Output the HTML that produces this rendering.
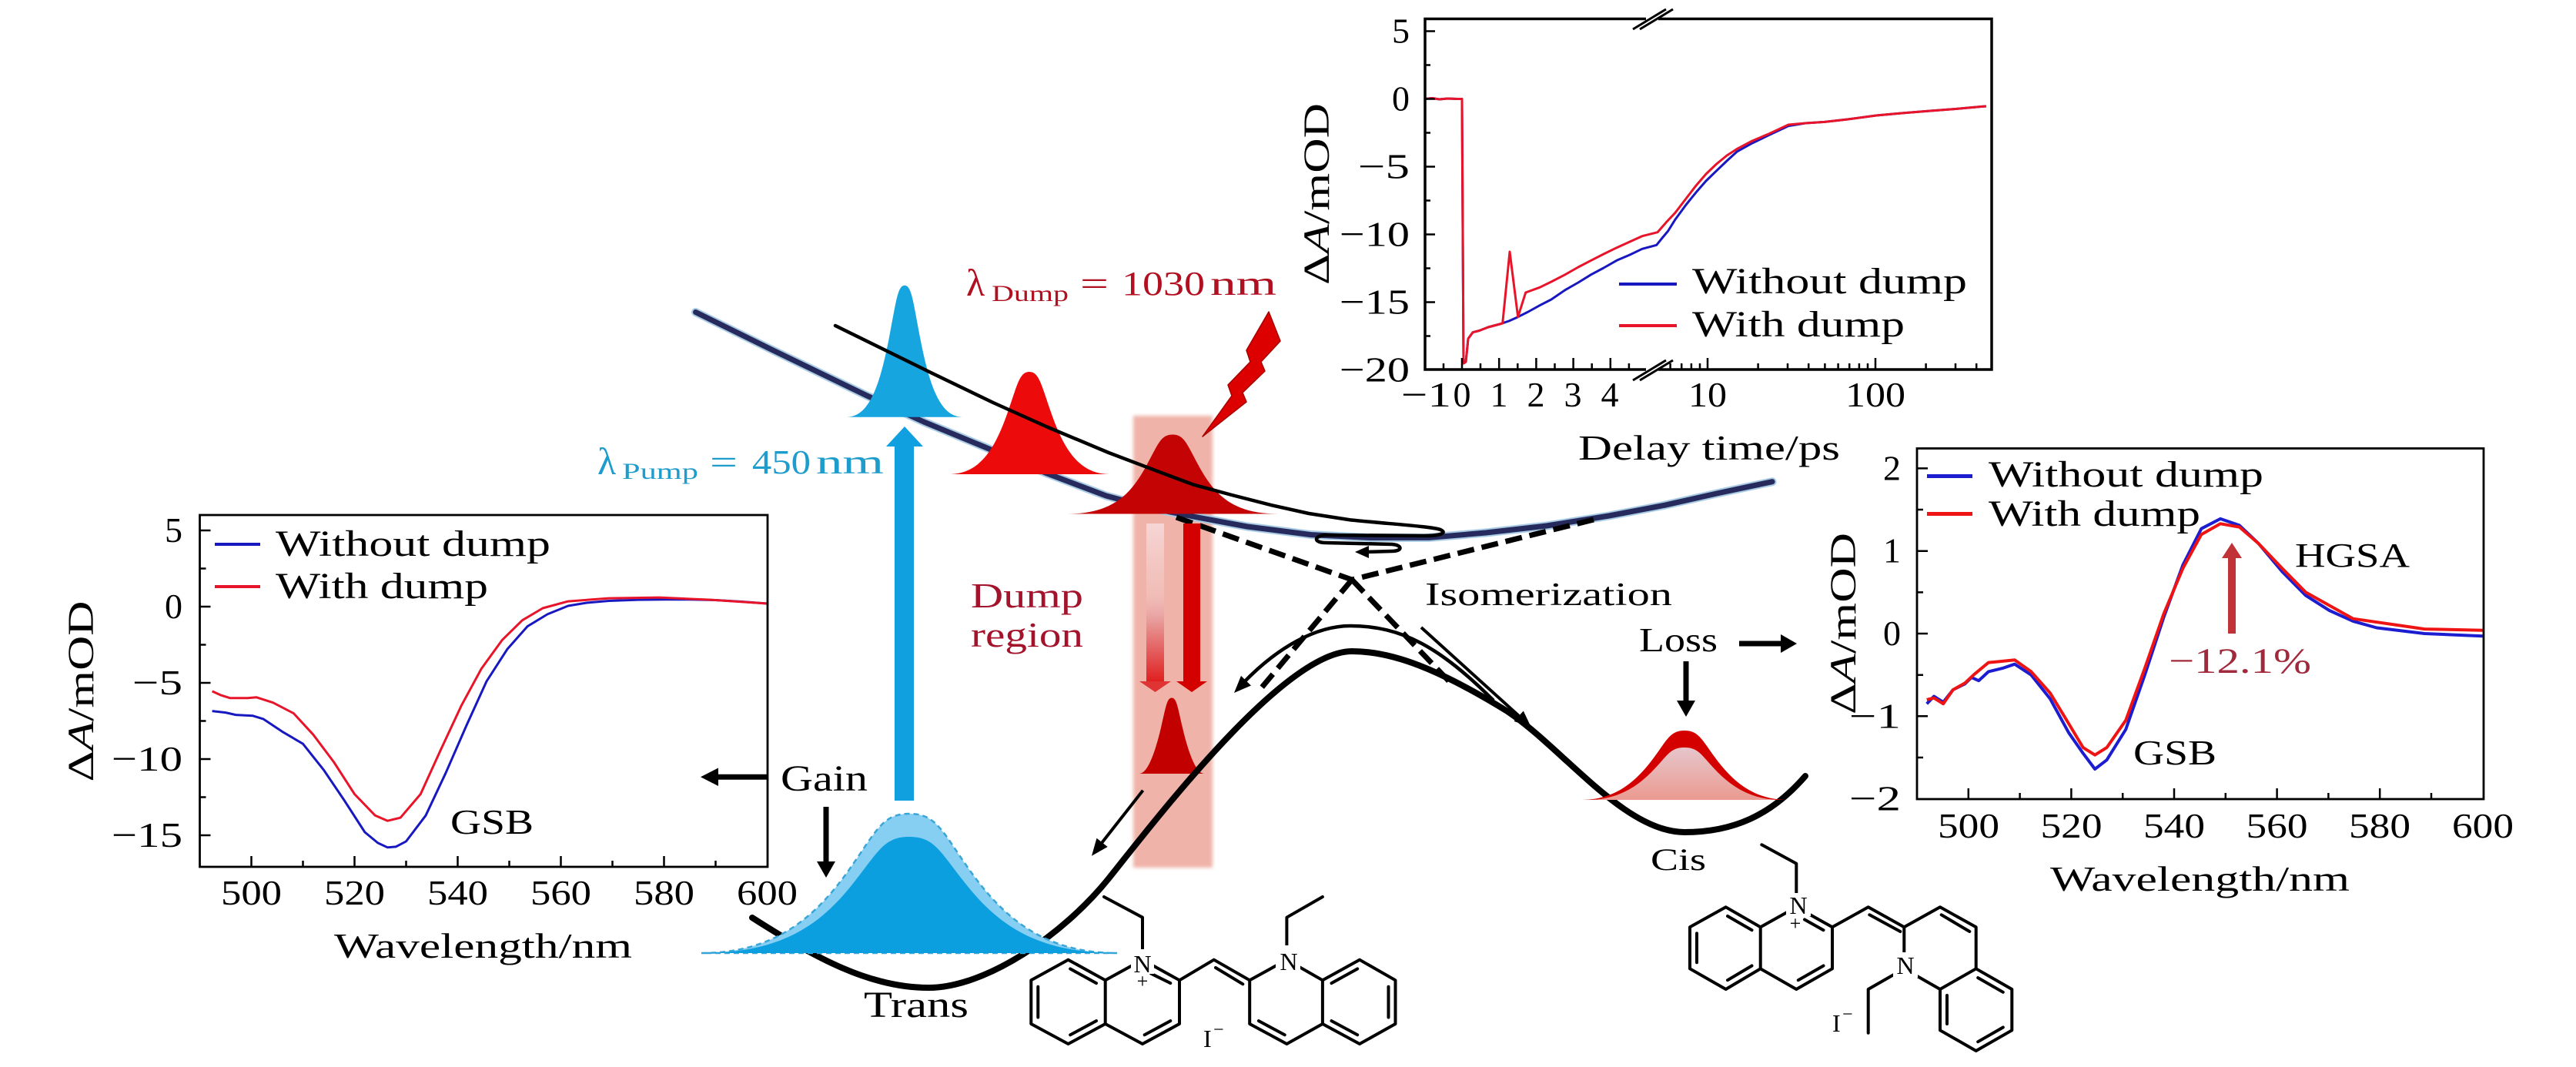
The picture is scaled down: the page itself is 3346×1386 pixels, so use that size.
<!DOCTYPE html>
<html>
<head>
<meta charset="utf-8">
<style>
html,body{margin:0;padding:0;background:#fff;}
svg{display:block;}
text{font-family:"Liberation Serif","DejaVu Serif",serif;}
</style>
</head>
<body>
<svg xmlns="http://www.w3.org/2000/svg" width="3346" height="1386" viewBox="0 0 3346 1386">
<defs>
  <linearGradient id="fadeArrow" x1="0" y1="0" x2="0" y2="1">
    <stop offset="0" stop-color="#f6dada" stop-opacity="0.9"/>
    <stop offset="0.45" stop-color="#f3c4c0" stop-opacity="0.6"/>
    <stop offset="0.6" stop-color="#e8a0a0"/>
    <stop offset="1" stop-color="#e02020"/>
  </linearGradient>
  <linearGradient id="cisFill" x1="0" y1="0" x2="0" y2="1">
    <stop offset="0" stop-color="#e6c6cc"/>
    <stop offset="1" stop-color="#eb9a90"/>
  </linearGradient>
  <filter id="soft" x="-10%" y="-5%" width="120%" height="110%">
    <feGaussianBlur stdDeviation="2.5"/>
  </filter>
</defs>
<rect x="0" y="0" width="3346" height="1386" fill="#fff"/>

<!-- ================= TOP PLOT ================= -->
<g>
  <path fill="none" stroke="#1818c0" stroke-width="3" stroke-linejoin="round" d="M1851,128.5 L1860,127.5 L1870,129 L1880,128 L1893,128.5 L1899,128.5 L1901,472 L1904,470 L1907,440 L1913,431.7 L1921.5,429.5 L1933,425 L1948,421 L1960,417 L1971.7,411.7 L1985,405 L2000,396.7 L2015,389 L2033,376.7 L2050,367 L2066.7,356.7 L2083,348 L2100,338.3 L2117,331 L2133,323.3 L2151.7,318.3 L2160,308 L2166.7,300 L2176,285.1 L2190,266 L2203,249.9 L2216,235 L2229.6,221.8 L2243,209 L2256,197.1 L2276,186 L2296.6,176 L2323,163.7 L2345,160 L2370,158.4 L2400,155 L2437,150 L2470,147 L2504,144.3 L2540,141.5 L2574.5,138.4 L2580,138"/>
  <path fill="none" stroke="#e8142a" stroke-width="3" stroke-linejoin="round" d="M1851,128.5 L1860,127.5 L1870,129 L1880,128 L1893,128.5 L1899,128.5 L1901,472 L1904,470 L1907,440 L1913,431.7 L1921.5,429.5 L1933,425 L1948,421 L1951.7,420 L1961,327 L1971.7,411.7 L1981.7,380 L2000,373.3 L2015,366 L2033,356.7 L2050,347 L2066.7,338.3 L2083,330 L2100,321.7 L2117,314 L2133,306.7 L2153,301.7 L2165,288 L2176,276.3 L2190,258 L2203,241.1 L2216,226 L2229.6,213 L2243,202 L2256,193.6 L2276,183 L2296.6,174.3 L2323,162 L2345,160 L2370,158.4 L2400,155 L2437,150 L2470,147 L2504,144.3 L2540,141.5 L2574.5,138.4 L2580,138"/>
  <rect x="1851" y="24.5" width="736" height="455.5" fill="none" stroke="#000" stroke-width="3.5"/>
  <path stroke="#000" stroke-width="2.5" fill="none" d="M1851,40.5 h13 M1851,128.5 h13 M1851,216.5 h13 M1851,304.5 h13 M1851,392.5 h13 M1851,84.5 h7 M1851,172.5 h7 M1851,260.5 h7 M1851,348.5 h7 M1851,436.5 h7"/>
  <path stroke="#000" stroke-width="2.5" fill="none" d="M1899,480 v-15 M1947.2,480 v-15 M1995.4,480 v-15 M2043.6,480 v-15 M2091.8,480 v-15 M2218,480 v-15 M2436,480 v-15
  M1875,480 v-8 M1923,480 v-8 M1971.3,480 v-8 M2019.5,480 v-8 M2067.7,480 v-8 M2115.9,480 v-8 M2169.6,480 v-8 M2184.2,480 v-8 M2196.9,480 v-8 M2208,480 v-8 M2283.6,480 v-8 M2322,480 v-8 M2349.2,480 v-8 M2370.4,480 v-8 M2387.6,480 v-8 M2402.2,480 v-8 M2414.9,480 v-8 M2426,480 v-8 M2501.6,480 v-8 M2540,480 v-8 M2567.2,480 v-8"/>
  <rect x="2138" y="19" width="16" height="11" fill="#fff"/>
  <rect x="2138" y="474.5" width="16" height="11" fill="#fff"/>
  <path stroke="#000" stroke-width="3" d="M2121,38 L2164,12 M2130,38 L2173,12 M2121,494 L2164,468 M2130,494 L2173,468"/>
  <g font-size="46">
    <text x="1831" y="55.5" text-anchor="end">5</text>
    <text x="1831" y="143.5" text-anchor="end">0</text>
    <text x="1764" y="231.5" textLength="67" lengthAdjust="spacingAndGlyphs">−5</text>
    <text x="1740" y="319.5" textLength="91" lengthAdjust="spacingAndGlyphs">−10</text>
    <text x="1740" y="407.5" textLength="91" lengthAdjust="spacingAndGlyphs">−15</text>
    <text x="1740" y="495.5" textLength="91" lengthAdjust="spacingAndGlyphs">−20</text>
    <text x="1820" y="528" textLength="65" lengthAdjust="spacingAndGlyphs">−1</text>
    <text x="1899" y="528" text-anchor="middle">0</text>
    <text x="1947" y="528" text-anchor="middle">1</text>
    <text x="1995" y="528" text-anchor="middle">2</text>
    <text x="2043" y="528" text-anchor="middle">3</text>
    <text x="2091" y="528" text-anchor="middle">4</text>
    <text x="2193" y="528" textLength="50" lengthAdjust="spacingAndGlyphs">10</text>
    <text x="2397" y="528" textLength="78" lengthAdjust="spacingAndGlyphs">100</text>
  </g>
  <text x="2050" y="597" font-size="46" textLength="340" lengthAdjust="spacingAndGlyphs">Delay time/ps</text>
  <text transform="translate(1726,370) rotate(-90)" font-size="48" textLength="236" lengthAdjust="spacingAndGlyphs">Δ<tspan font-style="italic">A</tspan>/mOD</text>
  <line x1="2103" y1="369" x2="2178" y2="369" stroke="#1818c0" stroke-width="4"/>
  <line x1="2103" y1="423" x2="2178" y2="423" stroke="#e8142a" stroke-width="4"/>
  <text x="2198" y="381" font-size="48" textLength="357" lengthAdjust="spacingAndGlyphs">Without dump</text>
  <text x="2198" y="437" font-size="48" textLength="276" lengthAdjust="spacingAndGlyphs">With dump</text>
</g>

<!-- ================= LEFT PLOT ================= -->
<g>
  <path fill="none" stroke="#1818c0" stroke-width="3" stroke-linejoin="round" d="M275.6,923.6 L293,925.6 L306.4,928.6 L328.5,929.8 L341.9,933.9 L366.7,950.4 L393.5,966.2 L420.3,999.9 L447.1,1039.5 L473.9,1081 L490.7,1094.9 L503.4,1100.8 L514.1,1099.9 L527.5,1092.9 L553,1059.3 L579.1,1003.8 L605.9,942.4 L632,885 L658.8,843.4 L685,813.7 L711.1,797.9 L737.9,787 L762,783 L790.8,780.5 L829,779.1 L862.5,778.7 L896,778.7 L929.5,779.5 L963,781.5 L996.5,784"/>
  <path fill="none" stroke="#e8142a" stroke-width="3" stroke-linejoin="round" d="M275.6,897.9 L286.3,902.8 L299,906.8 L321.8,906.8 L333.2,905.8 L354.6,912.7 L381.4,926.6 L406.9,954.3 L433.7,990 L460.5,1031.5 L487.3,1059.3 L503.4,1066.2 L520.1,1062.2 L546.3,1031.5 L572.4,974.1 L599.2,916.7 L625.3,868.6 L652.1,831.6 L678.3,805.8 L705,790 L737.9,781.1 L790.8,777.1 L856.3,776.1 L923.3,779.1 L996.5,784"/>
  <rect x="259.5" y="669" width="737.5" height="457" fill="none" stroke="#000" stroke-width="2.8"/>
  <path stroke="#000" stroke-width="2.5" fill="none" d="M259.5,689 h14 M259.5,788 h14 M259.5,887 h14 M259.5,986 h14 M259.5,1085 h14 M259.5,738.5 h8 M259.5,837.5 h8 M259.5,936.5 h8 M259.5,1035.5 h8
  M326.5,1126 v-14 M460.5,1126 v-14 M594.5,1126 v-14 M728.5,1126 v-14 M862.5,1126 v-14 M393.5,1126 v-8 M527.5,1126 v-8 M661.5,1126 v-8 M795.5,1126 v-8 M929.5,1126 v-8"/>
  <g font-size="46">
    <text x="237" y="704" text-anchor="end">5</text>
    <text x="237" y="803" text-anchor="end">0</text>
    <text x="172" y="902" textLength="65" lengthAdjust="spacingAndGlyphs">−5</text>
    <text x="145" y="1001" textLength="92" lengthAdjust="spacingAndGlyphs">−10</text>
    <text x="145" y="1100" textLength="92" lengthAdjust="spacingAndGlyphs">−15</text>
    <text x="287" y="1175" textLength="79" lengthAdjust="spacingAndGlyphs">500</text>
    <text x="421" y="1175" textLength="79" lengthAdjust="spacingAndGlyphs">520</text>
    <text x="555" y="1175" textLength="79" lengthAdjust="spacingAndGlyphs">540</text>
    <text x="689" y="1175" textLength="79" lengthAdjust="spacingAndGlyphs">560</text>
    <text x="823" y="1175" textLength="79" lengthAdjust="spacingAndGlyphs">580</text>
    <text x="957" y="1175" textLength="79" lengthAdjust="spacingAndGlyphs">600</text>
  </g>
  <text x="434" y="1244" font-size="46" textLength="387" lengthAdjust="spacingAndGlyphs">Wavelength/nm</text>
  <text transform="translate(121,1015.5) rotate(-90)" font-size="48" textLength="235" lengthAdjust="spacingAndGlyphs">Δ<tspan font-style="italic">A</tspan>/mOD</text>
  <line x1="279" y1="707" x2="338" y2="707" stroke="#1818c0" stroke-width="4"/>
  <line x1="279" y1="762" x2="338" y2="762" stroke="#e8142a" stroke-width="4"/>
  <text x="358" y="722" font-size="48" textLength="357" lengthAdjust="spacingAndGlyphs">Without dump</text>
  <text x="358" y="777" font-size="48" textLength="276" lengthAdjust="spacingAndGlyphs">With dump</text>
  <text x="585" y="1083" font-size="46" textLength="108" lengthAdjust="spacingAndGlyphs">GSB</text>
</g>

<!-- ================= RIGHT PLOT ================= -->
<g>
  <path fill="none" stroke="#1c1cd0" stroke-width="4" stroke-linejoin="round" d="M2502.7,914.2 L2512,904.5 L2524.1,912.1 L2536.8,896 L2552.1,888.5 L2560.8,879.9 L2570.2,884.2 L2582.9,872.4 L2600.9,868.1 L2616.9,862.7 L2638.3,876.7 L2663,907.8 L2687.1,951.8 L2705.8,978.6 L2721.1,999 L2736.5,987.2 L2761.2,947.5 L2785.9,876.7 L2810.6,801.5 L2835.4,733.9 L2859.4,686.7 L2884.1,673.9 L2908.8,682.4 L2933.6,706 L2964.3,742.5 L2995,773.6 L3025.7,793 L3056.5,806.9 L3087.2,815.5 L3149.3,823 L3224.8,826.2"/>
  <path fill="none" stroke="#ee1414" stroke-width="4" stroke-linejoin="round" d="M2502.7,908.8 L2512,906.7 L2524.1,914.2 L2536.8,896 L2552.1,887.4 L2563.5,876.7 L2582.9,860.6 L2594.9,859.5 L2616.9,857.3 L2638.3,872.4 L2663,900.3 L2687.1,940 L2705.8,971.1 L2721.1,980.7 L2736.5,971.1 L2761.2,935.7 L2785.9,868.1 L2810.6,797.2 L2835.4,738.2 L2859.4,694.2 L2884.1,680.3 L2908.8,684.6 L2933.6,706 L2964.3,738.2 L2995,769.4 L3056.5,803.7 L3149.3,817.1 L3224.8,818.7"/>
  <rect x="2490" y="582.5" width="736" height="455.5" fill="none" stroke="#000" stroke-width="2.8"/>
  <path stroke="#000" stroke-width="2.5" fill="none" d="M2490,608.4 h14 M2490,715.7 h14 M2490,823 h14 M2490,930.3 h14 M2490,662 h8 M2490,769.4 h8 M2490,876.7 h8 M2490,984 h8
  M2556.8,1038 v-14 M2690.4,1038 v-14 M2824,1038 v-14 M2957.6,1038 v-14 M3091.2,1038 v-14 M2623.6,1038 v-8 M2757.2,1038 v-8 M2890.8,1038 v-8 M3024.4,1038 v-8 M3158,1038 v-8"/>
  <g font-size="46">
    <text x="2469" y="623.4" text-anchor="end">2</text>
    <text x="2469" y="730.7" text-anchor="end">1</text>
    <text x="2469" y="838" text-anchor="end">0</text>
    <text x="2402" y="945.3" textLength="67" lengthAdjust="spacingAndGlyphs">−1</text>
    <text x="2402" y="1052.6" textLength="67" lengthAdjust="spacingAndGlyphs">−2</text>
    <text x="2517" y="1088" textLength="80" lengthAdjust="spacingAndGlyphs">500</text>
    <text x="2650.5" y="1088" textLength="80" lengthAdjust="spacingAndGlyphs">520</text>
    <text x="2784" y="1088" textLength="80" lengthAdjust="spacingAndGlyphs">540</text>
    <text x="2917.5" y="1088" textLength="80" lengthAdjust="spacingAndGlyphs">560</text>
    <text x="3051" y="1088" textLength="80" lengthAdjust="spacingAndGlyphs">580</text>
    <text x="3185" y="1088" textLength="80" lengthAdjust="spacingAndGlyphs">600</text>
  </g>
  <text x="2663" y="1157" font-size="46" textLength="389" lengthAdjust="spacingAndGlyphs">Wavelength/nm</text>
  <text transform="translate(2410,928) rotate(-90)" font-size="48" textLength="236" lengthAdjust="spacingAndGlyphs">Δ<tspan font-style="italic">A</tspan>/mOD</text>
  <line x1="2503" y1="618.5" x2="2562" y2="618.5" stroke="#1c1cd0" stroke-width="5"/>
  <line x1="2503" y1="667.5" x2="2562" y2="667.5" stroke="#ee1414" stroke-width="5"/>
  <text x="2583" y="632" font-size="48" textLength="357" lengthAdjust="spacingAndGlyphs">Without dump</text>
  <text x="2583" y="683" font-size="48" textLength="275" lengthAdjust="spacingAndGlyphs">With dump</text>
  <text x="2981" y="736" font-size="44" textLength="149" lengthAdjust="spacingAndGlyphs">HGSA</text>
  <text x="2771" y="993" font-size="46" textLength="108" lengthAdjust="spacingAndGlyphs">GSB</text>
  <text x="2817" y="874" font-size="47" fill="#a02a3c" textLength="185" lengthAdjust="spacingAndGlyphs">−12.1%</text>
  <line x1="2899" y1="823" x2="2899" y2="722" stroke="#c03438" stroke-width="10"/>
  <polygon points="2899,705 2886,725 2912,725" fill="#c03438"/>
</g>

<!-- ================= CENTRAL DIAGRAM ================= -->
<rect x="1472" y="540" width="103" height="587" fill="#efb3a9" filter="url(#soft)"/>

<polyline fill="none" stroke="#a9cbe3" stroke-width="11" stroke-linejoin="round" stroke-linecap="round" points="903.6,405.5 1000,453 1125.5,513.7 1200,548 1283.7,582.6 1360,615 1436.7,644 1500,661 1550,671 1620,684 1703,694.6 1780,698.5 1856,698.4 1930,692 2009,683 2090,670 2162,656.3 2230,641 2302,625.7"/>
<polyline fill="none" stroke="#262a5c" stroke-width="7" stroke-linejoin="round" stroke-linecap="round" points="903.6,405.5 1000,453 1125.5,513.7 1200,548 1283.7,582.6 1360,615 1436.7,644 1500,661 1550,671 1620,684 1703,694.6 1780,698.5 1856,698.4 1930,692 2009,683 2090,670 2162,656.3 2230,641 2302,625.7"/>

<path fill="#17a5e0" d="M1100,541.7 C1129,541.7 1143,500.2 1155,438 C1164,391.4 1166,370.7 1175,370.7 C1184,370.7 1186,391.4 1195,438 C1207,500.2 1221,541.7 1250,541.7 Z"/>
<path fill="#ec0a0a" d="M1232,616 C1272.6,616 1292.2,583.7 1309,535.3 C1321.6,499.1 1324.4,483 1337,483 C1349.6,483 1352.4,499.1 1365,535.3 C1381.8,583.7 1401.4,616 1442,616 Z"/>
<path fill="#c40404" d="M1386,667.5 C1444.8,667.5 1468.6,642.5 1489,605 C1504.3,577 1507.7,564.5 1523,564.5 C1538.3,564.5 1541.7,577 1557,605 C1577.4,642.5 1601.2,667.5 1660,667.5 Z"/>
<path fill="#c20000" d="M1480,1005 C1489.8,1005 1499.6,981.1 1508,945.3 C1514.3,918.4 1515.7,906.5 1522,906.5 C1528.3,906.5 1529.7,918.4 1536,945.3 C1544.4,981.1 1554.2,1005 1564,1005 Z"/>

<path fill="none" stroke="#000" stroke-width="4.5" stroke-linejoin="round" stroke-linecap="round" d="M1085,423 L1207,483 L1290,523 L1360,554.5 L1440,588 L1513,615.7 L1550,629.5 L1600,643 L1652,656.3 L1700,667 L1754,675.4 C1810,681 1860,684 1871,688 C1880,692 1872,696 1850,696 L1722,695 C1706,696 1706,705 1722,705 L1808,707 C1822,708 1822,716 1808,716 L1775,717"/>
<polygon points="1760,717 1778,709 1778,725" fill="#000"/>

<polygon points="1562,567 1600,514 1595,500 1624,470 1619,455 1648,405 1663,443 1638,470 1643,482 1614,510 1619,522" fill="#dd0000" stroke="#a80000" stroke-width="1.5" stroke-linejoin="round"/>

<g stroke="#000" stroke-width="7" stroke-dasharray="22 10" fill="none">
  <path d="M1528,672 L1756,753"/>
  <path d="M2070,675 L1756,753"/>
  <path d="M1756,753 L1633,900"/>
  <path d="M1756,753 L1887,890"/>
</g>

<path fill="none" stroke="#000" stroke-width="8" stroke-linecap="round" d="M977,1192 C1060,1245 1130,1283 1206,1283 C1280,1283 1381,1215 1441,1140 C1511,1052 1670,846 1756,846 C1810,846 1870,870 1958,924 C2030,972 2110,1081 2188,1081 C2250,1081 2300,1060 2345,1008"/>
<path fill="none" stroke="#000" stroke-width="4.5" d="M1614,888 C1660,840 1710,813 1754,813 C1820,813 1870,840 1940,910"/>
<polygon points="1603,900 1625,890.5 1612,877.9" fill="#000"/>

<path fill="#86cff2" stroke="#3aa6d8" stroke-width="2.5" stroke-dasharray="7 5" d="M911,1238 C1003.9,1238 1057.8,1194.1 1104,1128.2 C1138.65,1078.9 1146.35,1057 1181,1057 C1215.65,1057 1223.35,1078.9 1258,1128.2 C1304.2,1194.1 1358.1,1238 1451,1238 Z"/>
<path fill="#0b9fe0" d="M911,1238 C1015.4,1238 1065.8,1201.4 1109,1146.4 C1141.4,1105.3 1148.6,1087 1181,1087 C1213.4,1087 1220.6,1105.3 1253,1146.4 C1296.2,1201.4 1346.6,1238 1451,1238 Z"/>

<path fill="#d40000" d="M2054,1039 C2096,1039 2124,1017.2 2148,984.4 C2166,959.9 2170,949 2188,949 C2206,949 2210,959.9 2228,984.4 C2252,1017.2 2280,1039 2322,1039 Z"/>
<path fill="url(#cisFill)" d="M2062,1039 C2100.6,1039 2127.2,1022.5 2150,997.8 C2167.1,979.2 2170.9,971 2188,971 C2205.1,971 2208.9,979.2 2226,997.8 C2248.8,1022.5 2275.4,1039 2314,1039 Z"/>

<rect x="1162" y="578" width="25" height="462" fill="#10a0e0"/>
<polygon points="1151,580 1199,580 1175,554" fill="#10a0e0"/>

<rect x="1489" y="680" width="23" height="205" fill="url(#fadeArrow)"/>
<polygon points="1480,885 1521,885 1500.5,899" fill="#e03434"/>
<rect x="1537" y="680" width="22" height="205" fill="#d40000"/>
<polygon points="1528,885 1568,885 1548,899" fill="#d40000"/>

<line x1="1846" y1="815" x2="1973" y2="930" stroke="#000" stroke-width="4"/>
<polygon points="1989,945 1966.6,936.9 1978.8,923.5" fill="#000"/>
<line x1="1484.6" y1="1026.7" x2="1431" y2="1095" stroke="#000" stroke-width="4"/>
<polygon points="1418,1111.7 1438.7,1100 1424.5,1088.8" fill="#000"/>

<line x1="997" y1="1009.3" x2="928" y2="1009.3" stroke="#000" stroke-width="7"/>
<polygon points="910,1009.3 933,997.5 933,1021" fill="#000"/>
<line x1="1073" y1="1048" x2="1073" y2="1124" stroke="#000" stroke-width="7"/>
<polygon points="1073,1140 1061,1119 1085,1119" fill="#000"/>
<line x1="2190" y1="859" x2="2190" y2="914" stroke="#000" stroke-width="7"/>
<polygon points="2190,931 2178,910 2202,910" fill="#000"/>
<line x1="2259" y1="836" x2="2316" y2="836" stroke="#000" stroke-width="7"/>
<polygon points="2334,836 2313,824 2313,848" fill="#000"/>

<text x="776" y="616" font-size="50" fill="#1e9ccc">λ</text>
<text x="808" y="622" font-size="30" fill="#1e9ccc" textLength="99" lengthAdjust="spacingAndGlyphs">Pump</text>
<text x="922" y="615" font-size="44" fill="#1e9ccc" textLength="36" lengthAdjust="spacingAndGlyphs">=</text>
<text x="977" y="615" font-size="44" fill="#1e9ccc" textLength="76" lengthAdjust="spacingAndGlyphs">450</text>
<text x="1060" y="615" font-size="44" fill="#1e9ccc" textLength="88" lengthAdjust="spacingAndGlyphs">nm</text>

<text x="1255" y="384" font-size="50" fill="#b01020">λ</text>
<text x="1288" y="391" font-size="30" fill="#b01020" textLength="100" lengthAdjust="spacingAndGlyphs">Dump</text>
<text x="1403" y="383" font-size="44" fill="#b01020" textLength="37" lengthAdjust="spacingAndGlyphs">=</text>
<text x="1457" y="383" font-size="44" fill="#b01020" textLength="108" lengthAdjust="spacingAndGlyphs">1030</text>
<text x="1572" y="383" font-size="44" fill="#b01020" textLength="86" lengthAdjust="spacingAndGlyphs">nm</text>

<text x="1261" y="789" font-size="46" fill="#a3142c" textLength="146" lengthAdjust="spacingAndGlyphs">Dump</text>
<text x="1261" y="840" font-size="46" fill="#a3142c" textLength="146" lengthAdjust="spacingAndGlyphs">region</text>

<text x="1851" y="786" font-size="42" textLength="321" lengthAdjust="spacingAndGlyphs">Isomerization</text>
<text x="2129" y="846" font-size="44" textLength="102" lengthAdjust="spacingAndGlyphs">Loss</text>
<text x="1014" y="1027" font-size="48" textLength="113" lengthAdjust="spacingAndGlyphs">Gain</text>
<text x="1122" y="1321" font-size="48" textLength="136" lengthAdjust="spacingAndGlyphs">Trans</text>
<text x="2144" y="1130" font-size="40" textLength="72" lengthAdjust="spacingAndGlyphs">Cis</text>

<!-- ================= TRANS MOLECULE ================= -->
<g stroke="#000" stroke-width="4" fill="none" stroke-linejoin="round" stroke-linecap="round">
  <polygon points="1387.5,1246.7 1435.7,1273.3 1435.7,1330 1387.5,1356 1339.3,1330 1339.3,1273.3"/>
  <polyline points="1435.7,1273.3 1484,1246.7 1532,1273.3 1532,1330 1484,1356 1435.7,1330"/>
  <polyline points="1532,1273.3 1576.8,1246.7 1623.2,1273.3"/>
  <polygon points="1623.2,1273.3 1671.4,1246.7 1717.9,1273.3 1717.9,1330 1671.4,1356 1623.2,1330"/>
  <polyline points="1717.9,1273.3 1766,1246.7 1812.5,1273.3 1812.5,1330 1766,1356 1717.9,1330"/>
  <polyline points="1484,1246.7 1484,1191.7 1434,1165"/>
  <polyline points="1671.4,1246.7 1671.4,1191.7 1717.9,1165"/>
  <line x1="1390.2" y1="1258.5" x2="1424" y2="1277.1"/>
  <line x1="1348.3" y1="1281.8" x2="1348.3" y2="1321.5"/>
  <line x1="1424" y1="1326.1" x2="1390.2" y2="1344.3"/>
  <line x1="1495" y1="1264.6" x2="1520.3" y2="1277.1"/>
  <line x1="1520.3" y1="1326.1" x2="1486.7" y2="1344.3"/>
  <line x1="1579" y1="1257" x2="1614.3" y2="1278.3"/>
  <line x1="1634.9" y1="1326.1" x2="1668.7" y2="1344.3"/>
  <line x1="1729.5" y1="1277.1" x2="1763.2" y2="1258.5"/>
  <line x1="1803.5" y1="1281.8" x2="1803.5" y2="1321.5"/>
  <line x1="1729.5" y1="1326.1" x2="1763.2" y2="1344.3"/>
</g>
<rect x="1469" y="1233" width="30" height="32" fill="#fff"/>
<rect x="1657" y="1228" width="32" height="34" fill="#fff"/>
<text x="1484" y="1263" font-size="32" text-anchor="middle">N</text>
<text x="1484" y="1283" font-size="26" text-anchor="middle">+</text>
<text x="1674" y="1260" font-size="32" text-anchor="middle">N</text>
<text x="1563" y="1360" font-size="32">I</text>
<text x="1576" y="1345" font-size="24">−</text>

<!-- ================= CIS MOLECULE ================= -->
<g stroke="#000" stroke-width="4" fill="none" stroke-linejoin="round" stroke-linecap="round">
  <polygon points="2241.7,1178.3 2286.7,1204.3 2286.7,1258.3 2241.7,1285 2195,1258.3 2195,1204.3"/>
  <polyline points="2286.7,1204.3 2333.3,1178.3 2380,1204.3 2380,1258.3 2333.3,1285 2286.7,1258.3"/>
  <polyline points="2380,1204.3 2426.7,1178.3 2473.3,1204.3"/>
  <polygon points="2473.3,1204.3 2520,1178.3 2566.7,1204.3 2566.7,1258.3 2520,1285 2473.3,1258.3"/>
  <polyline points="2566.7,1258.3 2613.3,1285 2613.3,1338.3 2566.7,1365 2520,1338.3 2520,1285"/>
  <polyline points="2333.3,1178.3 2333.3,1121.7 2288.3,1097.3"/>
  <polyline points="2473.3,1258.3 2426.7,1285 2426.7,1341.7"/>
  <line x1="2244" y1="1190" x2="2275.5" y2="1208.2"/>
  <line x1="2204" y1="1212.4" x2="2204" y2="1250.2"/>
  <line x1="2275.5" y1="1254.5" x2="2244" y2="1273.2"/>
  <line x1="2344" y1="1194.5" x2="2368.5" y2="1208.2"/>
  <line x1="2368.5" y1="1254.5" x2="2335.8" y2="1273.2"/>
  <line x1="2428.3" y1="1188.3" x2="2468.3" y2="1210"/>
  <line x1="2521.7" y1="1188.3" x2="2558.3" y2="1210"/>
  <line x1="2569.2" y1="1270.1" x2="2601.8" y2="1288.8"/>
  <line x1="2529" y1="1293" x2="2529" y2="1330"/>
  <line x1="2569.2" y1="1353.2" x2="2601.8" y2="1334.5"/>
</g>
<rect x="2320" y="1160" width="32" height="30" fill="#fff"/>
<rect x="2459" y="1237" width="32" height="33" fill="#fff"/>
<text x="2336" y="1187" font-size="32" text-anchor="middle">N</text>
<text x="2332" y="1208" font-size="26" text-anchor="middle">+</text>
<text x="2475" y="1265" font-size="32" text-anchor="middle">N</text>
<text x="2380" y="1340" font-size="32">I</text>
<text x="2393" y="1325" font-size="24">−</text>
</svg>
</body>
</html>
